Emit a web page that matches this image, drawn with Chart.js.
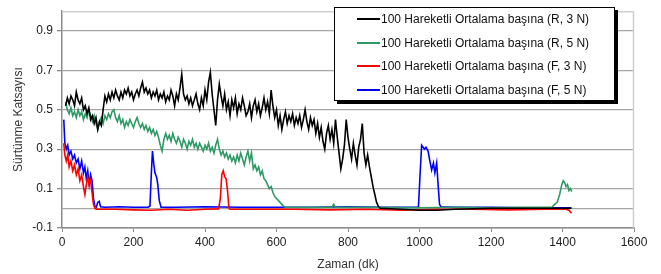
<!DOCTYPE html>
<html>
<head>
<meta charset="utf-8">
<script src="https://cdn.jsdelivr.net/npm/chart.js@4.4.0/dist/chart.umd.min.js"></script>
<style>
  html, body { margin: 0; padding: 0; background: #fff; }
  #wrap { position: relative; width: 661px; height: 274px; }
  #legend {
    position: absolute; left: 334px; top: 7px; width: 279px; height: 92px;
    background: #fff; border: 1px solid #000; box-shadow: 3px 3px 0 #000;
    font-family: 'Liberation Sans', Arial, sans-serif; font-size: 12px; color: #111;
  }
  .row { position: absolute; left: 22px; height: 14px; display: flex; align-items: center; white-space: nowrap; }
  .swatch { width: 23px; height: 2px; margin-right: 1px; }
</style>
</head>
<body>
<div id="wrap">
  <canvas id="c" width="661" height="274"></canvas>
  <div id="legend"></div>
</div>
<script>
// ─── Data ────────────────────────────────────────────────────────────────────
const seriesNames = [
  '100 Hareketli Ortalama başına (R, 3 N)',
  '100 Hareketli Ortalama başına (R, 5 N)',
  '100 Hareketli Ortalama başına (F, 3 N)',
  '100 Hareketli Ortalama başına (F, 5 N)',
];
const seriesColors = ['#000000', '#2f9a66', '#ff0000', '#0000ff'];

const xTicks = [0, 200, 400, 600, 800, 1000, 1200, 1400, 1600];
const yTicks = [-0.1, 0.1, 0.3, 0.5, 0.7, 0.9];

// [minute, friction coefficient]
const r3N = [
  [10,0.52],[15,0.56],[20,0.53],[25,0.57],[30,0.55],[35,0.52],[40,0.59],[45,0.55],[50,0.53],[55,0.56],
  [60,0.50],[65,0.52],[70,0.48],[75,0.51],[80,0.45],[85,0.47],[90,0.43],[95,0.46],[100,0.40],[105,0.44],
  [110,0.42],[115,0.50],[120,0.57],[125,0.54],[130,0.58],[135,0.55],[140,0.59],[145,0.56],[150,0.60],[155,0.57],
  [160,0.55],[165,0.59],[170,0.56],[175,0.60],[180,0.58],[185,0.61],[190,0.57],[195,0.59],[200,0.55],[205,0.58],
  [210,0.60],[215,0.57],[220,0.61],[225,0.64],[230,0.59],[235,0.61],[240,0.58],[245,0.60],[250,0.56],[255,0.59],
  [260,0.57],[265,0.60],[270,0.55],[275,0.58],[280,0.56],[285,0.59],[290,0.54],[295,0.57],[300,0.55],[305,0.60],
  [310,0.57],[315,0.52],[320,0.58],[325,0.55],[330,0.61],[335,0.68],[340,0.58],[345,0.55],[350,0.57],[355,0.53],
  [360,0.56],[365,0.52],[370,0.55],[375,0.58],[380,0.53],[385,0.50],[390,0.56],[395,0.52],[400,0.60],[405,0.55],
  [410,0.64],[415,0.69],[420,0.58],[425,0.50],[430,0.42],[435,0.55],[440,0.63],[445,0.57],[450,0.52],[455,0.58],
  [460,0.50],[465,0.54],[470,0.47],[475,0.55],[480,0.51],[485,0.56],[490,0.48],[495,0.53],[500,0.50],[505,0.56],
  [510,0.52],[515,0.47],[520,0.49],[525,0.53],[530,0.46],[535,0.52],[540,0.55],[545,0.49],[550,0.53],[555,0.47],
  [560,0.51],[565,0.56],[570,0.50],[575,0.54],[580,0.48],[585,0.60],[590,0.52],[595,0.46],[600,0.50],[605,0.42],
  [610,0.47],[615,0.40],[620,0.45],[625,0.49],[630,0.43],[635,0.47],[640,0.44],[645,0.48],[650,0.42],[655,0.46],
  [660,0.43],[665,0.47],[670,0.41],[675,0.45],[680,0.50],[685,0.44],[690,0.40],[695,0.46],[700,0.42],[705,0.45],
  [710,0.38],[715,0.43],[720,0.36],[725,0.41],[730,0.34],[735,0.30],[740,0.38],[745,0.42],[750,0.35],[755,0.40],
  [760,0.33],[765,0.45],[770,0.36],[775,0.28],[780,0.20],[785,0.25],[790,0.32],[795,0.45],[800,0.36],[805,0.30],
  [810,0.25],[815,0.33],[820,0.27],[825,0.22],[830,0.31],[835,0.35],[840,0.43],[845,0.28],[850,0.22],[855,0.27],
  [860,0.21],[865,0.16],[870,0.11],[875,0.07],[880,0.03],[885,0.01],[890,0.0],[950,-0.005],[1000,-0.01],
  [1050,-0.01],[1100,-0.005],[1200,0.0],[1300,0.0],[1400,0.0],[1425,0.0],
];
const r5N = [
  [10,0.54],[15,0.50],[20,0.48],[25,0.51],[30,0.47],[35,0.49],[40,0.46],[45,0.50],[50,0.47],[55,0.49],
  [60,0.45],[65,0.48],[70,0.46],[75,0.50],[80,0.47],[85,0.44],[90,0.47],[95,0.43],[100,0.40],[105,0.44],
  [110,0.46],[115,0.43],[120,0.47],[125,0.45],[130,0.48],[135,0.46],[140,0.49],[145,0.50],[150,0.46],[155,0.44],
  [160,0.47],[165,0.43],[170,0.45],[175,0.41],[180,0.44],[185,0.42],[190,0.45],[195,0.43],[200,0.41],[205,0.44],
  [210,0.46],[215,0.43],[220,0.41],[225,0.43],[230,0.40],[235,0.42],[240,0.39],[245,0.41],[250,0.38],[255,0.40],
  [260,0.37],[265,0.39],[270,0.36],[275,0.32],[280,0.29],[285,0.35],[290,0.38],[295,0.35],[300,0.37],[305,0.34],
  [310,0.38],[315,0.35],[320,0.33],[325,0.36],[330,0.34],[335,0.31],[340,0.35],[345,0.33],[350,0.30],[355,0.34],
  [360,0.32],[365,0.35],[370,0.31],[375,0.33],[380,0.30],[385,0.33],[390,0.31],[395,0.29],[400,0.32],[405,0.30],
  [410,0.33],[415,0.29],[420,0.31],[425,0.28],[430,0.32],[435,0.35],[440,0.30],[445,0.27],[450,0.29],[455,0.26],
  [460,0.28],[465,0.25],[470,0.27],[475,0.24],[480,0.26],[485,0.23],[490,0.27],[495,0.24],[500,0.28],[505,0.25],
  [510,0.22],[515,0.26],[520,0.29],[525,0.24],[530,0.28],[535,0.20],[540,0.22],[545,0.19],[550,0.21],[555,0.17],
  [560,0.19],[565,0.15],[570,0.14],[575,0.12],[580,0.10],[585,0.11],[590,0.08],[595,0.06],[600,0.05],[605,0.04],
  [610,0.03],[615,0.02],[620,0.01],[625,0.005],[700,0.005],[755,0.005],[760,0.02],[765,0.005],[850,0.005],
  [1000,0.003],[1100,0.005],[1200,0.003],[1300,0.005],[1370,0.005],[1378,0.02],[1385,0.03],[1392,0.07],
  [1398,0.12],[1402,0.14],[1406,0.13],[1410,0.11],[1414,0.12],[1418,0.09],[1422,0.10],[1426,0.085],
];
const f3N = [
  [5,0.33],[8,0.27],[12,0.24],[16,0.27],[20,0.21],[25,0.24],[30,0.19],[35,0.22],[40,0.17],[45,0.20],
  [50,0.14],[55,0.17],[60,0.11],[64,0.07],[68,0.12],[72,0.16],[76,0.12],[80,0.14],[84,0.08],[88,0.02],
  [92,0.0],[96,-0.005],[150,-0.005],[200,-0.008],[250,-0.01],[300,-0.005],[350,-0.01],[400,-0.005],
  [438,-0.003],[443,0.05],[447,0.17],[451,0.19],[455,0.16],[459,0.15],[463,0.09],[467,0.0],[470,-0.005],
  [550,-0.005],[650,-0.005],[750,-0.008],[850,-0.005],[950,-0.01],[1050,-0.005],[1150,-0.005],
  [1250,-0.008],[1350,-0.005],[1410,-0.005],[1418,-0.01],[1425,-0.025],
];
const f5N = [
  [5,0.45],[8,0.33],[12,0.30],[16,0.32],[20,0.27],[25,0.29],[30,0.25],[35,0.27],[40,0.23],[45,0.25],
  [50,0.20],[55,0.24],[60,0.18],[64,0.21],[68,0.15],[72,0.19],[76,0.12],[80,0.17],[84,0.14],[88,0.05],
  [92,0.01],[96,0.005],[100,0.03],[104,0.035],[108,0.008],[120,0.005],[160,0.008],[200,0.005],[240,0.005],
  [246,0.01],[250,0.18],[253,0.29],[257,0.22],[260,0.18],[265,0.155],[268,0.12],[272,0.04],[277,0.005],
  [320,0.005],[400,0.008],[500,0.005],[600,0.005],[700,0.005],[800,0.008],[900,0.005],[997,0.005],
  [1001,0.15],[1006,0.32],[1010,0.31],[1014,0.30],[1018,0.31],[1024,0.29],[1029,0.24],[1034,0.195],
  [1039,0.23],[1043,0.18],[1048,0.23],[1052,0.12],[1056,0.02],[1060,0.008],[1100,0.005],[1200,0.005],
  [1300,0.003],[1425,0.003],
];
const allSeries = [r3N, r5N, f3N, f5N];

// ─── Legend (HTML, boxed with a hard drop shadow like Excel) ──────────────────
const legendEl = document.getElementById('legend');
seriesNames.forEach((name, i) => {
  const row = document.createElement('div');
  row.className = 'row';
  row.style.top = (4 + i * 23.7) + 'px';
  row.innerHTML = `<span class="swatch" style="background:${seriesColors[i]}"></span><span>${name}</span>`;
  legendEl.appendChild(row);
});

// ─── Plugin: light-grey plot frame on top and right ───────────────────────────
const frame = {
  id: 'frame',
  beforeDatasetsDraw(chart) {
    const { ctx, chartArea: a } = chart;
    ctx.save();
    ctx.strokeStyle = '#cfcfcf';
    ctx.lineWidth = 1.5;
    ctx.beginPath();
    ctx.moveTo(a.left, a.top + 0.5);
    ctx.lineTo(a.right - 0.5, a.top + 0.5);
    ctx.lineTo(a.right - 0.5, a.bottom);
    ctx.stroke();
    ctx.restore();
  },
};

const font = { family: "'Liberation Sans', Arial, sans-serif", size: 12 };
const lbl = v => v.toFixed(1);

new Chart(document.getElementById('c'), {
  type: 'line',
  data: {
    datasets: allSeries.map((s, i) => ({
      label: seriesNames[i],
      data: s.map(([x, y]) => ({ x, y })),
      borderColor: seriesColors[i],
      borderWidth: 1.6,
      pointRadius: 0,
      tension: 0,
      fill: false,
    })),
  },
  options: {
    responsive: false,
    animation: false,
    layout: { padding: { top: 6, right: 27, left: 0, bottom: 0 } },
    plugins: { legend: { display: false }, tooltip: { enabled: false } },
    scales: {
      x: {
        type: 'linear', min: 0, max: 1600,
        afterBuildTicks(s) { s.ticks = xTicks.map(v => ({ value: v })); },
        afterFit(s) { s.height = 46; },
        border: { color: '#8c8c8c', width: 1.5 },
        grid: { drawOnChartArea: false, drawTicks: true, tickLength: 4, tickColor: '#8c8c8c' },
        ticks: { color: '#222', font, padding: 3, maxRotation: 0, callback: v => String(v) },
        title: { display: true, text: 'Zaman (dk)', color: '#333', font, padding: { top: 0, bottom: 2 } },
      },
      y: {
        min: -0.1, max: 1.0,
        afterBuildTicks(s) {
          s.ticks = [-0.1, 0, 0.1, 0.3, 0.5, 0.7, 0.9, 1.0].map(v => ({ value: v }));
        },
        afterFit(s) { s.width = 62; },
        border: { color: '#8c8c8c', width: 1.5 },
        grid: {
          color: c => {
            const v = lbl(c.tick.value);
            if (v === '1.0') return 'rgba(0,0,0,0)';
            if (v === '-0.1') return '#8c8c8c';
            return '#a6a6a6';
          },
          lineWidth: 1.3,
          tickLength: 5,
          tickColor: c => yTicks.map(lbl).includes(lbl(c.tick.value)) ? '#8c8c8c' : 'rgba(0,0,0,0)',
        },
        ticks: {
          color: '#222', font, padding: 4,
          callback: v => yTicks.map(lbl).includes(lbl(v)) ? lbl(v) : '',
        },
        title: { display: true, text: 'Sürtünme Katsayısı', color: '#333', font, padding: { top: 11, bottom: 0 } },
      },
    },
  },
  plugins: [frame],
});
</script>
</body>
</html>
